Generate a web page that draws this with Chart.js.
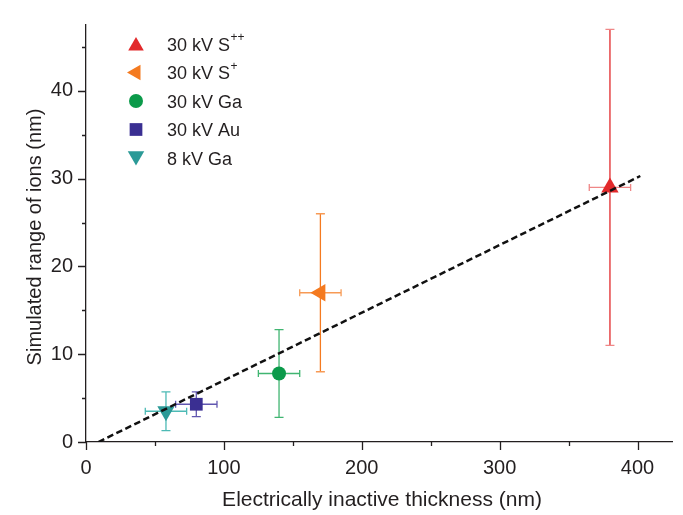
<!DOCTYPE html>
<html><head><meta charset="utf-8">
<script src="https://cdn.jsdelivr.net/npm/chart.js@4/dist/chart.umd.min.js"></script>
<style>html,body{margin:0;padding:0;background:#fff}#wrap{width:683px;height:515px;position:relative}</style>
</head><body><div id="wrap"><canvas id="c"></canvas></div>
<script>
// ---- data ----
const legendBase = ['30 kV S', '30 kV S', '30 kV Ga', '30 kV Au', '8 kV Ga'];
const legendSup  = ['++', '+', '', '', ''];
const thickness    = [380, 170, 140, 80, 58];
const thicknessErr = [15, 15, 15, 15, 15];
const ionRange     = [29.0, 17.0, 7.8, 4.3, 3.5];
const rangeLow     = [11.0, 8.0, 2.8, 2.9, 1.3];
const rangeHigh    = [47.0, 26.0, 12.8, 5.7, 5.7];
const fitX = [9, 402];
const fitY = [0, 30.3];
const xTickLabels = [0, 100, 200, 300, 400];
const yTickLabels = [0, 10, 20, 30, 40];
const xTitle = 'Electrically inactive thickness (nm)';
const yTitle = 'Simulated range of ions (nm)';

// ---- styles ----
const markerColors = ['#e2292b', '#f47a20', '#0b9a4a', '#3a2f92', '#2b9a97'];
const errColors    = ['#e2292b', '#f47a20', '#40b571', '#6157b0', '#4dbab5'];
const capColors    = ['#ef8787', '#f79a55', '#40b571', '#6157b0', '#4dbab5'];
const pStyles   = ['triangle', 'triangle', 'circle', 'rect', 'triangle'];
const pRot      = [0, -90, 0, 0, 180];
const pRad      = [10, 10, 7, 9, 10];
const legRad    = [9, 9, 7, 9, 9.5];
const FONT = '"Liberation Sans", Arial, sans-serif';
const TXT = '#231f20';

const datasets = [{
  type: 'line',
  data: fitX.map((x, i) => ({x, y: fitY[i]})),
  borderColor: '#111', borderWidth: 2.5, borderDash: [6.5, 3.5],
  pointRadius: 0, fill: false, order: 0
}];
thickness.forEach((x, i) => {
  datasets.push({
    type: 'scatter',
    data: [{x, y: ionRange[i]}],
    pointStyle: pStyles[i], rotation: pRot[i], pointRadius: pRad[i],
    backgroundColor: markerColors[i], borderColor: markerColors[i], borderWidth: 0,
    order: 1
  });
});

const errorBars = {
  id: 'errorBars',
  beforeDatasetsDraw(chart) {
    const {ctx, scales: {x, y}} = chart;
    ctx.save();
    ctx.lineWidth = 1.3;
    thickness.forEach((tx, i) => {
      const px = x.getPixelForValue(tx), py = y.getPixelForValue(ionRange[i]);
      const yl = y.getPixelForValue(rangeLow[i]), yh = y.getPixelForValue(rangeHigh[i]);
      const xl = x.getPixelForValue(tx - thicknessErr[i]), xh = x.getPixelForValue(tx + thicknessErr[i]);
      ctx.strokeStyle = errColors[i];
      ctx.beginPath(); ctx.moveTo(px, yl); ctx.lineTo(px, yh); ctx.stroke();
      ctx.strokeStyle = capColors[i];
      ctx.beginPath();
      ctx.moveTo(px - 4.5, yl); ctx.lineTo(px + 4.5, yl);
      ctx.moveTo(px - 4.5, yh); ctx.lineTo(px + 4.5, yh);
      ctx.moveTo(xl, py); ctx.lineTo(xh, py);
      ctx.moveTo(xl, py - 3.5); ctx.lineTo(xl, py + 3.5);
      ctx.moveTo(xh, py - 3.5); ctx.lineTo(xh, py + 3.5);
      ctx.stroke();
    });
    ctx.restore();
  }
};

const decor = {
  id: 'decor',
  afterDraw(chart) {
    const {ctx, scales: {x, y}, chartArea: a} = chart;
    ctx.save();
    // tick marks
    ctx.strokeStyle = TXT; ctx.lineWidth = 1.3;
    ctx.beginPath();
    for (let v = 0; v <= x.max; v += 50) {
      const p = Math.round(x.getPixelForValue(v)) + 0.5;
      const len = (v % 100 === 0) ? 8 : 4;
      ctx.moveTo(p, a.bottom); ctx.lineTo(p, a.bottom + len);
    }
    for (let v = 0; v <= y.max; v += 5) {
      const p = Math.round(y.getPixelForValue(v)) + 0.5;
      const len = (v % 10 === 0) ? 8 : 4;
      ctx.moveTo(a.left, p); ctx.lineTo(a.left - len, p);
    }
    ctx.stroke();
    // axis titles
    ctx.fillStyle = TXT;
    ctx.font = '21px ' + FONT;
    ctx.textAlign = 'center'; ctx.textBaseline = 'alphabetic';
    ctx.fillText(xTitle, 382, 506);
    ctx.font = '20px ' + FONT;
    ctx.translate(41, 237); ctx.rotate(-Math.PI / 2);
    ctx.fillText(yTitle, 0, 0);
    ctx.setTransform(1, 0, 0, 1, 0, 0);
    // legend
    legendBase.forEach((t, i) => {
      const ry = 44 + i * 28.5;
      ctx.fillStyle = markerColors[i];
      Chart.helpers.drawPoint(ctx, {pointStyle: pStyles[i], rotation: pRot[i], radius: legRad[i], borderWidth: 0}, 136, ry + (pRot[i] === 180 ? -2 : pStyles[i] === 'triangle' && pRot[i] === 0 ? 2 : 0));
      ctx.fillStyle = TXT;
      ctx.font = '18px ' + FONT;
      ctx.textAlign = 'left'; ctx.textBaseline = 'middle';
      ctx.fillText(t, 167, ry + 2);
      if (legendSup[i]) {
        const w = ctx.measureText(t).width;
        ctx.font = '12px ' + FONT;
        ctx.fillText(legendSup[i], 167 + w + 0.5, ry - 6);
      }
    });
    ctx.restore();
  }
};

new Chart(document.getElementById('c'), {
  type: 'scatter',
  data: {datasets},
  options: {
    responsive: true, maintainAspectRatio: false, animation: false,
    layout: {padding: {top: 7, right: 11, left: 0, bottom: 0}},
    plugins: {legend: {display: false}, tooltip: {enabled: false}},
    scales: {
      x: {
        type: 'linear', min: 0, max: 425,
        afterFit(s) { s.height = 73; },
        grid: {display: false, drawTicks: false},
        border: {display: true, color: TXT, width: 1.3},
        ticks: {stepSize: 100, includeBounds: false, padding: 14, color: TXT, font: {family: FONT, size: 20},
          callback: v => xTickLabels.includes(v) ? String(v) : ''}
      },
      y: {
        type: 'linear', min: 0, max: 47.5,
        afterFit(s) { s.width = 86; },
        grid: {display: false, drawTicks: false},
        border: {display: true, color: TXT, width: 1.3},
        ticks: {stepSize: 10, includeBounds: false, padding: 13, color: TXT, font: {family: FONT, size: 20},
          callback: v => yTickLabels.includes(v) ? String(v) : ''}
      }
    }
  },
  plugins: [errorBars, decor]
});
</script>
</body></html>
